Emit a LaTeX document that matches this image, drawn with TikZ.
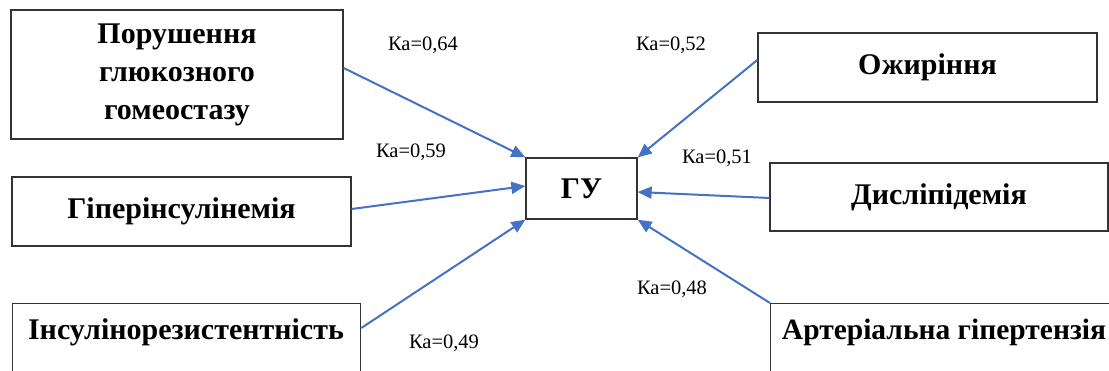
\documentclass[tikz,border=0pt]{standalone}
\usepackage{fontspec}
\setmainfont{Liberation Serif}
\usetikzlibrary{arrows.meta,calc}
\definecolor{arrowblue}{RGB}{68,114,196}
\begin{document}
\begin{tikzpicture}[x=1pt,y=-1pt,
  box/.style={draw=black!80, line width=1.3pt, rectangle, inner sep=0pt, align=center,
    font=\fontsize{30}{38}\selectfont\bfseries},
  title/.style={font=\fontsize{30}{38}\selectfont\bfseries, inner sep=0pt, align=center},
  conn/.style={draw=arrowblue, line width=2pt, -{Triangle[length=14pt,width=12pt]}},
  ka/.style={font=\fontsize{20.5}{24}\selectfont, inner sep=0pt, anchor=base}]
\useasboundingbox (0,0) rectangle (1109,371);
\clip (0,0) rectangle (1109,371);
% boxes
\node[box, minimum width=332, minimum height=129] (b1) at (177,74.5) {Порушення\\глюкозного\\гомеостазу};
\node[box, minimum width=339, minimum height=69] (b2) at (181.5,211.5) {Гіперінсулінемія};
\node[box, minimum width=348, minimum height=80, anchor=north west] (b3) at (12,303) {};
\node[title] (t3) at (186,332) {Інсулінорезистентність};
\node[box, minimum width=111, minimum height=61] (gu) at (581.5,188.5) {ГУ};
\node[box, minimum width=339, minimum height=69] (b4) at (927.5,67.5) {Ожиріння};
\node[box, minimum width=338, minimum height=68] (b5) at (939,197) {Дисліпідемія};
\node[box, minimum width=360, minimum height=90, anchor=north west] (b6) at (770,303) {};
\node[title, font=\fontsize{29.5}{36}\selectfont\bfseries] (t6) at (944,332) {Артеріальна гіпертензія};
% connectors
\draw[conn] ([yshift=6.5pt]b1.east) -- (gu.north west);
\draw[conn] ([yshift=2.5pt]b2.east) -- ([yshift=2.5pt]gu.west);
\draw[conn] ([yshift=-25pt]b3.north east) -- (gu.south west);
\draw[conn] ([yshift=7.5pt]b4.west) -- (gu.north east);
\draw[conn] ([yshift=-1pt]b5.west) -- ([yshift=-3.5pt]gu.east);
\draw[conn] (b6.north west) -- (gu.south east);
% labels
\node[ka] (k1) at (423,50.7) {Ка=0,64};
\node[ka] (k2) at (671,50.7) {Ка=0,52};
\node[ka] (k3) at (411,157.5) {Ка=0,59};
\node[ka] (k4) at (717,164) {Ка=0,51};
\node[ka] (k5) at (672,295) {Ка=0,48};
\node[ka] (k6) at (444,349) {Ка=0,49};
\end{tikzpicture}
\end{document}
